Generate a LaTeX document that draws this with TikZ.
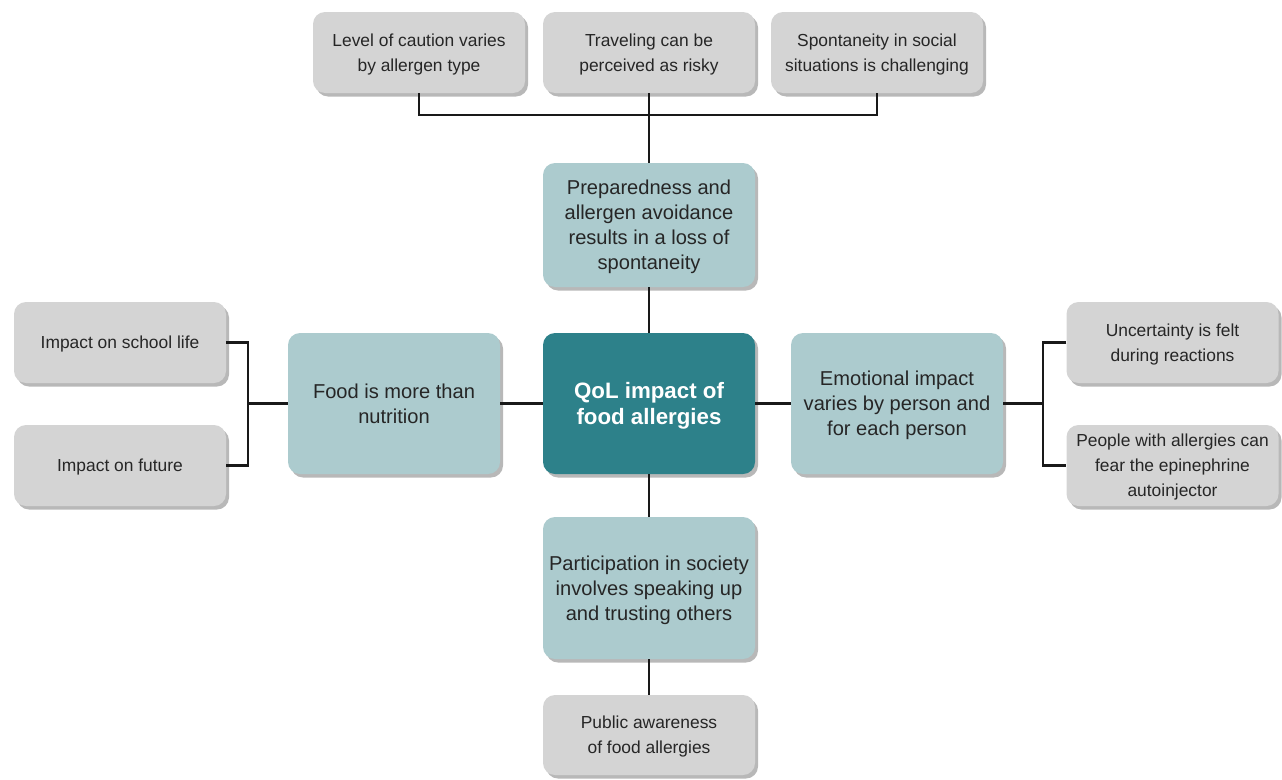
\documentclass[tikz,border=0pt]{standalone}
\usepackage{fontspec}
\setmainfont{Liberation Sans}
\usetikzlibrary{shadows}
\definecolor{greybox}{HTML}{D4D4D4}
\definecolor{lightteal}{HTML}{ACCBCE}
\definecolor{darkteal}{HTML}{2D818A}
\definecolor{txt}{HTML}{262626}
\begin{document}
\begin{tikzpicture}[x=1pt,y=-1pt,
  basebox/.style={rounded corners=12pt, align=center, inner sep=1pt, text=txt, text depth=0pt,
    drop shadow={shadow xshift=3pt, shadow yshift=-3.5pt, fill=black, opacity=0.28}},
  greyitem/.style={basebox, fill=greybox, minimum width=212pt, minimum height=81pt,
    font=\fontsize{17.4}{25}\selectfont},
  tealitem/.style={basebox, fill=lightteal, minimum width=212pt,
    font=\fontsize{20.1}{25}\selectfont},
  centeritem/.style={basebox, fill=darkteal, text=white, minimum width=212pt, minimum height=141pt,
    font=\fontsize{22.3}{25.5}\selectfont\bfseries},
  link/.style={draw=black!90, line width=2.2pt}
]
\useasboundingbox (0,0) rectangle (1282,779);
% top row
\node[greyitem] (caution) at (419,52.5) {Level of caution varies\\by allergen type};
\node[greyitem] (travel) at (649,52.5) {Traveling can be\\perceived as risky};
\node[greyitem] (spont) at (877,52.5) {Spontaneity in social\\situations is challenging};
% middle column
\node[tealitem, minimum height=124pt] (prep) at (649,225) {Preparedness and\\allergen avoidance\\results in a loss of\\spontaneity};
\node[centeritem] (qol) at (649,403.5) {QoL impact of\\food allergies};
\node[tealitem, minimum height=141pt] (food) at (394,403.5) {Food is more than\\nutrition};
\node[tealitem, minimum height=141pt] (emo) at (897,403.5) {Emotional impact\\varies by person and\\for each person};
\node[tealitem, minimum height=142pt] (part) at (649,588) {Participation in society\\involves speaking up\\and trusting others};
\node[greyitem, minimum height=80pt] (public) at (649,735) {Public awareness\\of food allergies};
% sides
\node[greyitem] (school) at (120,342.5) {Impact on school life};
\node[greyitem] (future) at (120,465.5) {Impact on future};
\node[greyitem] (uncert) at (1172.5,342.5) {Uncertainty is felt\\during reactions};
\node[greyitem] (fear) at (1172.5,465.5) {People with allergies can\\fear the epinephrine\\autoinjector};
% junctions
\coordinate (jt) at (649,115);
\coordinate (jl) at (248,403.5);
\coordinate (jr) at (1043,403.5);
% connectors
\draw[link] (caution.south) |- (jt) -| (spont.south);
\draw[link] (travel.south) -- (prep.north);
\draw[link] (prep.south) -- (qol.north);
\draw[link] (qol.south) -- (part.north);
\draw[link] (part.south) -- (public.north);
\draw[link] (qol.west) -- (food.east);
\draw[link] (qol.east) -- (emo.west);
\draw[link] (school.east) -| (jl) |- (future.east);
\draw[link] (jl) -- (food.west);
\draw[link] (uncert.west) -| (jr) |- (fear.west);
\draw[link] (jr) -- (emo.east);
\end{tikzpicture}
\end{document}
